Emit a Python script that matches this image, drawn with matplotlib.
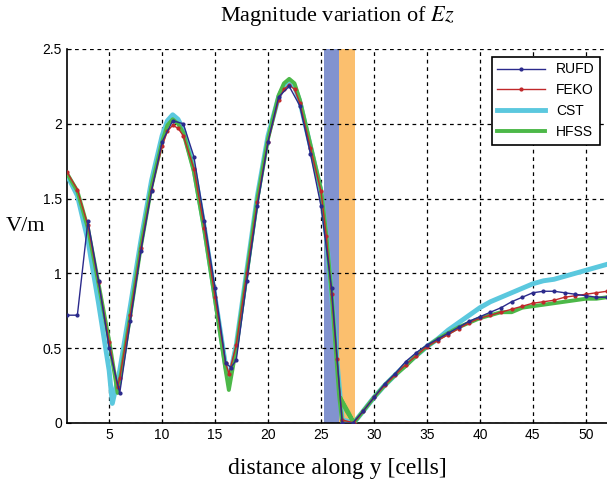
import numpy as np
import matplotlib.pyplot as plt

plt.rcParams['mathtext.fontset'] = 'stix'

# valores (distancia en celdas, magnitud en V/m)
rufd_x = [1, 2, 3, 4, 5, 6, 7, 8, 9, 10, 11, 12, 13, 14, 15, 16, 16.5, 17, 18, 19, 20,
          21, 22, 23, 24, 25, 26, 27, 28, 29, 30, 31, 32, 33, 34, 35, 36, 37, 38, 39,
          40, 41, 42, 43, 44, 45, 46, 47, 48, 49, 50, 51, 52]
rufd_y = [0.72, 0.72, 1.35, 0.95, 0.50, 0.20, 0.68, 1.15, 1.55, 1.88, 2.02, 2.00, 1.78,
          1.35, 0.90, 0.40, 0.37, 0.42, 0.95, 1.45, 1.88, 2.18, 2.25, 2.12, 1.80, 1.45,
          0.90, 0.00, 0.00, 0.08, 0.17, 0.26, 0.33, 0.41, 0.47, 0.52, 0.56, 0.60, 0.64,
          0.68, 0.71, 0.74, 0.77, 0.81, 0.84, 0.87, 0.88, 0.88, 0.87, 0.86, 0.85, 0.84, 0.84]

feko_x = [1, 2, 3, 4, 5, 5.8, 6, 7, 8, 9, 10, 10.5, 11, 11.5, 12, 13, 14, 15, 16, 16.3,
          17, 18, 19, 20, 21, 21.5, 22, 22.5, 23, 24, 25, 25.5, 26, 26.5, 27, 28.1, 29,
          30, 31, 32, 33, 34, 35, 36, 37, 38, 39, 40, 41, 42, 43, 44, 45, 46, 47, 48, 49,
          50, 51, 52]
feko_y = [1.68, 1.56, 1.32, 0.94, 0.54, 0.24, 0.30, 0.72, 1.17, 1.56, 1.85, 1.95, 1.99,
          1.97, 1.92, 1.70, 1.30, 0.84, 0.40, 0.33, 0.52, 1.00, 1.48, 1.88, 2.16, 2.23,
          2.26, 2.23, 2.14, 1.84, 1.55, 1.25, 0.86, 0.43, 0.02, 0.00, 0.08, 0.17, 0.25,
          0.32, 0.39, 0.45, 0.51, 0.55, 0.59, 0.63, 0.67, 0.70, 0.72, 0.74, 0.76, 0.78,
          0.80, 0.81, 0.82, 0.84, 0.85, 0.86, 0.87, 0.88]

cst_x = [1, 2, 3, 4, 5, 5.3, 6, 7, 8, 9, 10, 10.5, 11, 11.5, 12, 13, 14, 15, 16, 16.3,
         17, 18, 19, 20, 21, 21.5, 22, 22.5, 23, 24, 25, 25.5, 26, 26.5, 27, 28.1, 29,
         30, 31, 32, 33, 34, 35, 36, 37, 38, 39, 40, 41, 42, 43, 44, 45, 46, 47, 48, 49,
         50, 51, 52]
cst_y = [1.66, 1.52, 1.22, 0.80, 0.35, 0.13, 0.35, 0.78, 1.22, 1.62, 1.92, 2.02, 2.06,
         2.03, 1.96, 1.70, 1.30, 0.84, 0.38, 0.28, 0.52, 1.02, 1.52, 1.92, 2.18, 2.25,
         2.28, 2.25, 2.15, 1.85, 1.55, 1.25, 0.85, 0.42, 0.02, 0.00, 0.08, 0.17, 0.25,
         0.32, 0.39, 0.45, 0.51, 0.56, 0.62, 0.67, 0.72, 0.77, 0.81, 0.84, 0.87, 0.90,
         0.93, 0.95, 0.96, 0.98, 1.00, 1.02, 1.04, 1.06]

hfss_x = [1, 2, 3, 4, 5, 5.8, 6, 7, 8, 9, 10, 10.5, 11, 11.5, 12, 13, 14, 15, 16, 16.3,
          17, 18, 19, 20, 21, 21.5, 22, 22.5, 23, 24, 25, 25.5, 26, 26.7, 27.0, 28.1,
          27.6, 26.8, 27.4, 28.1, 29, 30, 31, 32, 33, 34, 35, 36, 37, 38, 39, 40, 41, 42,
          43, 44, 45, 46, 47, 48, 49, 50, 51, 52]
hfss_y = [1.67, 1.55, 1.30, 0.93, 0.55, 0.20, 0.28, 0.72, 1.18, 1.58, 1.88, 1.99, 2.03,
          2.00, 1.94, 1.68, 1.28, 0.82, 0.35, 0.22, 0.50, 1.00, 1.50, 1.90, 2.19, 2.27,
          2.30, 2.27, 2.16, 1.86, 1.56, 1.26, 0.86, 0.19, 0.00, 0.00, 0.07, 0.17, 0.08,
          0.00, 0.08, 0.17, 0.25, 0.32, 0.38, 0.45, 0.51, 0.56, 0.60, 0.64, 0.67, 0.70,
          0.72, 0.74, 0.74, 0.77, 0.78, 0.79, 0.80, 0.81, 0.82, 0.83, 0.83, 0.84]

# franjas de material
banda_azul = (25.25, 26.7)
banda_naranja = (26.7, 28.2)

fig = plt.figure(figsize=(6.07, 4.8), dpi=100)
ax = fig.add_axes([0.110, 0.119, 0.890, 0.779])

ax.axvspan(*banda_azul, color='#8293cf', lw=0, zorder=1)
ax.axvspan(*banda_naranja, color='#fbbf6e', lw=0, zorder=1)

ax.plot(cst_x, cst_y, color='#5bc8de', lw=3.5, label='CST', zorder=3)
ax.plot(hfss_x, hfss_y, color='#4cb848', lw=2.8, label='HFSS', zorder=4)
ax.plot(feko_x, feko_y, color='#c0282a', lw=1.0, marker='.', ms=4, label='FEKO', zorder=5)
ax.plot(rufd_x, rufd_y, color='#2b2a8c', lw=1.0, marker='.', ms=4, label='RUFD', zorder=6)

ax.set_xlim(1, 52)
ax.set_ylim(0, 2.5)
ax.set_xticks([5, 10, 15, 20, 25, 30, 35, 40, 45, 50])
ax.set_yticks([0, 0.5, 1, 1.5, 2, 2.5])
ax.set_yticklabels(['0', '0.5', '1', '1.5', '2', '2.5'])
ax.grid(True, color='black', linestyle=(0, (3, 3)), lw=0.9)
ax.set_axisbelow(False)
for s in ['top', 'right']:
    ax.spines[s].set_visible(False)
ax.spines['left'].set_linewidth(1.2)
ax.spines['bottom'].set_linewidth(1.2)
ax.tick_params(direction='in', length=3, labelsize=10)
for lab in ax.get_xticklabels() + ax.get_yticklabels():
    lab.set_family('Liberation Sans')

ax.set_title(r'Magnitude variation of $Ez$', family='Liberation Serif', fontsize=16, pad=20)
ax.set_xlabel('distance along y [cells]', family='Liberation Serif', fontsize=17, labelpad=12)
ax.set_ylabel('V/m', family='Liberation Serif', fontsize=16, rotation=0, labelpad=12)

h, l = ax.get_legend_handles_labels()
orden = [3, 2, 0, 1]
leg = ax.legend([h[i] for i in orden], [l[i] for i in orden], loc='upper right',
                bbox_to_anchor=(0.987, 0.979), borderaxespad=0, fancybox=False,
                edgecolor='black', framealpha=1, prop={'family': 'Liberation Sans', 'size': 10},
                handlelength=3.4, labelspacing=0.5)
leg.set_zorder(10)
leg.get_frame().set_linewidth(1.2)

fig.savefig('out.png', dpi=100)
